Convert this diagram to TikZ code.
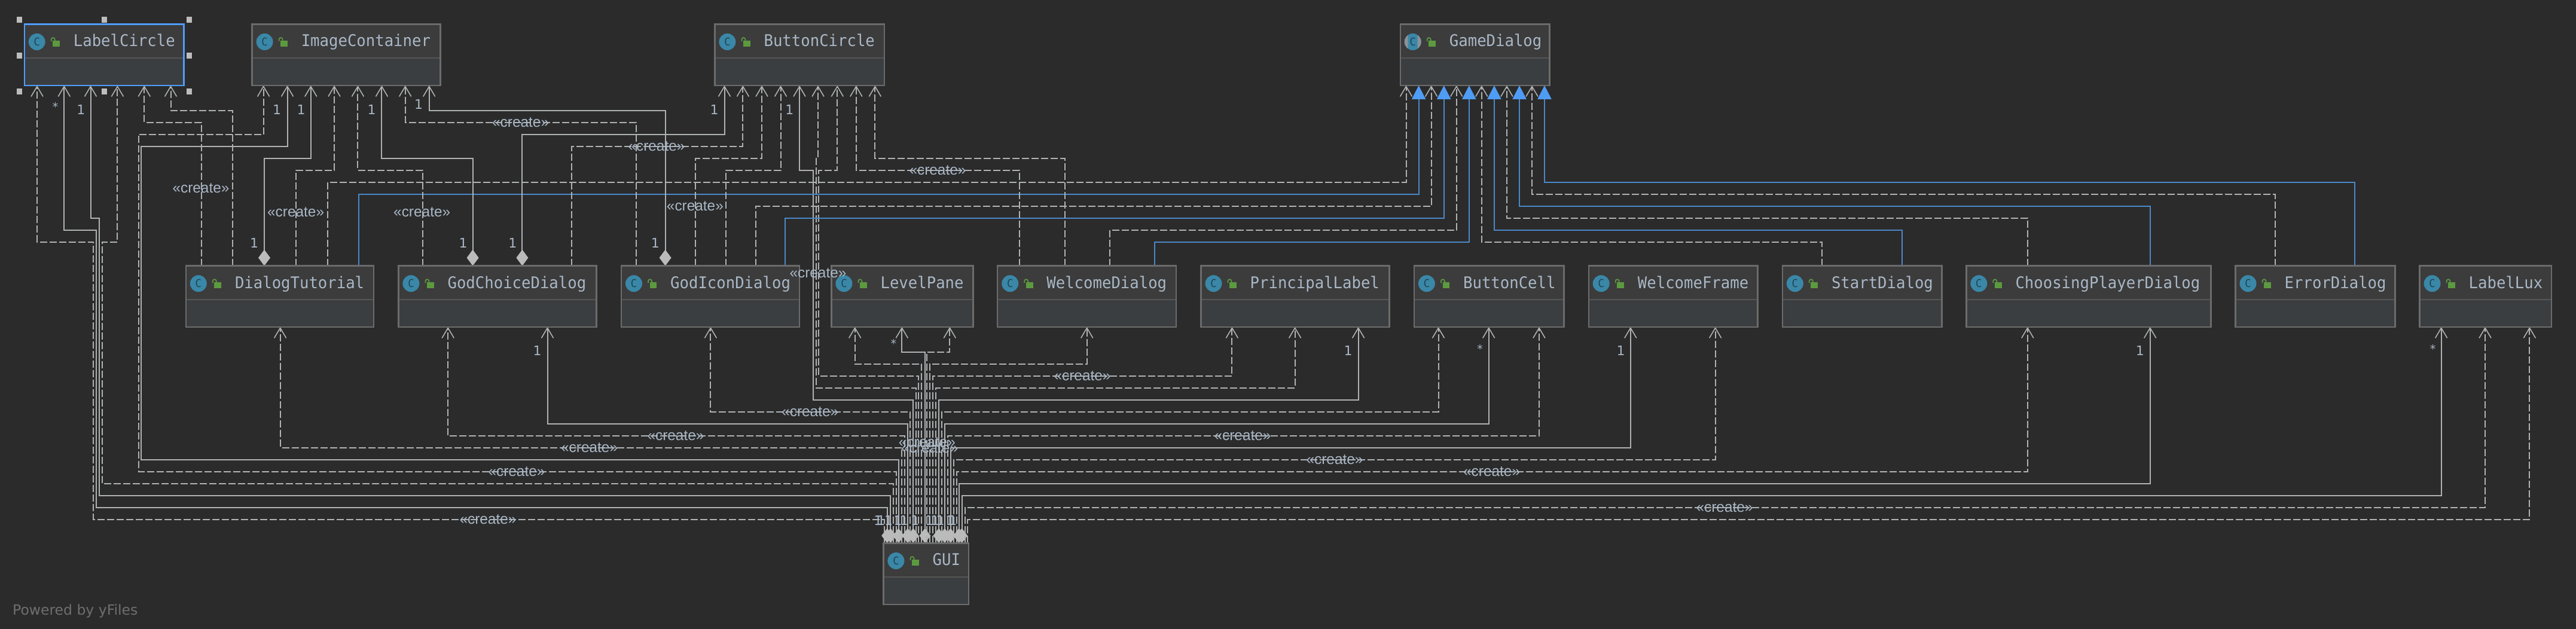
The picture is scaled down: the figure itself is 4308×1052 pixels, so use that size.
\documentclass[tikz,border=0pt]{standalone}
\usepackage{fontspec}
\usetikzlibrary{arrows.meta}
\newfontfamily\boxfont[FakeStretch=0.95]{DejaVu Sans Mono}
\newfontfamily\labfont{DejaVu Sans}
\newfontfamily\crfont{Liberation Sans}
\definecolor{bgc}{HTML}{2B2B2B}
\definecolor{headc}{HTML}{3C3C3C}
\definecolor{bodyc}{HTML}{3B3E40}
\definecolor{borderc}{HTML}{6B6B6B}
\definecolor{divc}{HTML}{555555}
\definecolor{linec}{HTML}{AFB1B3}
\definecolor{bluel}{HTML}{4A88C7}
\definecolor{bluet}{HTML}{4F9CF5}
\definecolor{selc}{HTML}{4F9CFF}
\definecolor{textc}{HTML}{A9B7C6}
\definecolor{iconc}{HTML}{3A87A7}
\definecolor{iconl}{HTML}{1F4454}
\definecolor{absc}{HTML}{8A9299}
\definecolor{lockc}{HTML}{5C9A3F}
\definecolor{diac}{HTML}{BBBBBB}
\definecolor{handc}{HTML}{BDBDBD}
\definecolor{yfc}{HTML}{6E6E6E}
\tikzset{
  x=1pt,y=-1pt,
  umlbox/.style={draw=borderc,line width=2.4pt,fill=bodyc,anchor=north west,inner sep=0pt,outer sep=0pt},
  open/.tip={Straight Barb[length=17pt,width=20pt,line width=1.6pt]},
  solidl/.style={draw=linec,line width=2pt,-{open},line join=miter},
  dashl/.style={draw=linec,line width=2pt,dash pattern=on 12pt off 4pt,-{open}},
  genl/.style={draw=bluel,line width=2pt,-{Triangle[length=23pt,width=23pt,color=bluet]}},
  comp/.style={draw=linec,line width=2pt,{Diamond[length=27pt,width=20pt,color=diac]}-{open}},
  compg/.style={draw=linec,line width=2pt,{Diamond[length=25pt,width=19pt,color=diac]}-{open}},
  cname/.style={anchor=base west,inner sep=0pt,text=textc,font=\boxfont\fontsize{27pt}{29pt}\selectfont},
  clab/.style={inner sep=0pt,text=textc,font=\crfont\fontsize{24.4pt}{26pt}\selectfont},
  mult/.style={inner sep=0pt,text=textc,font=\labfont\fontsize{22pt}{24pt}\selectfont},
  star/.style={inner sep=0pt,text=textc,font=\labfont\fontsize{19pt}{24pt}\selectfont},
  ico/.style={circle,fill=iconc,minimum size=28pt,inner sep=0pt,text=iconl,font=\boxfont\fontsize{18pt}{18pt}\selectfont},
  hand/.style={fill=handc,minimum size=9.5pt,inner sep=0pt,draw=none},
}
\newcommand{\umlnode}[5]{% name, x1, x2, y1, y2
  \pgfmathsetmacro{\bw}{#3-#2}\pgfmathsetmacro{\bh}{#5-#4}
  \node[umlbox,minimum width=\bw pt,minimum height=\bh pt] (#1) at (#2,#4) {};
}
\newcommand{\umldeco}[3]{% name, text, border colour
  \fill[headc] (#1.north west) rectangle ([yshift=-56.5pt]#1.north east);
  \draw[divc,line width=2.2pt] ([yshift=-56.5pt]#1.north west) -- ([yshift=-56.5pt]#1.north east);
  \draw[#3,line width=2.4pt] (#1.south west) rectangle (#1.north east);
  \node[ico] (#1-ico) at ([xshift=21pt,yshift=-29.6pt]#1.north west) {C};
  \fill[lockc] ([xshift=47.6pt,yshift=-27.6pt]#1.north west) rectangle ([xshift=59.3pt,yshift=-37.6pt]#1.north west);
  \draw[lockc,line width=1.7pt] ([xshift=45pt,yshift=-28.4pt]#1.north west) -- ([xshift=45pt,yshift=-25.6pt]#1.north west) arc (180:0:3pt) -- ++(0,-2pt);
  \node[cname] (#1-name) at ([xshift=82pt,yshift=-37.5pt]#1.north west) {#2};
}
% style, from node, x1, lane, x2, to node
\newcommand{\conn}[6]{\draw[#1] (#3,0 |- #2.north) -- (#3,#4) -- (#5,#4) -- (#5,0 |- #6.south);}
% style, x1, lane, x2, lane2, x3, to node (from GUI)
\newcommand{\connl}[7]{\draw[#1] (#2,0 |- gui.north) -- (#2,#3) -- (#4,#3) -- (#4,#5) -- (#6,#5) -- (#6,0 |- #7.south);}
\begin{document}
\begin{tikzpicture}
\fill[bgc] (0,0) rectangle (4308,1052);
\useasboundingbox (0,0) rectangle (4308,1052);
% boxes (geometry first so connectors can refer to them)
\umlnode{labelcircle}{40.7}{307.3}{40.4}{142.9}
\umlnode{imagecontainer}{421.6}{736.6}{40.4}{142.9}
\umlnode{buttoncircle}{1195.4}{1478.8}{40.4}{142.9}
\umlnode{gamedialog}{2341.7}{2591.5}{40.4}{142.9}
\umlnode{dialogtutorial}{310.8}{625}{444.6}{546.8}
\umlnode{godchoice}{666.4}{997.6}{444.6}{546.8}
\umlnode{godicon}{1039}{1337.1}{444.6}{546.8}
\umlnode{levelpane}{1390.4}{1627.6}{444.6}{546.8}
\umlnode{welcomedialog}{1668.2}{1967}{444.6}{546.8}
\umlnode{principal}{2008.5}{2323.5}{444.6}{546.8}
\umlnode{buttoncell}{2364.9}{2615.3}{444.6}{546.8}
\umlnode{welcomeframe}{2656.7}{2939.4}{444.6}{546.8}
\umlnode{startdialog}{2980.8}{3247.4}{444.6}{546.8}
\umlnode{choosing}{3288.3}{3697.5}{444.6}{546.8}
\umlnode{errordialog}{3738.5}{4005.6}{444.6}{546.8}
\umlnode{labellux}{4046.5}{4267}{444.6}{546.8}
\umlnode{gui}{1477.4}{1619.8}{908.4}{1011}
% GUI connectors, left side
\connl{dashl}{1479}{868.5}{156.4}{404.6}{62}{labelcircle}
\connl{compg}{1483.7}{848.5}{161.4}{384.6}{107.3}{labelcircle}
\connl{compg}{1489.3}{828.5}{165.6}{364.6}{151.5}{labelcircle}
\connl{dashl}{1493.6}{808.5}{170.5}{404.6}{196.4}{labelcircle}
\connl{dashl}{1498.5}{788.5}{231.5}{224.6}{440.6}{imagecontainer}
\connl{compg}{1502.7}{768.5}{236.4}{244.6}{480.5}{imagecontainer}
\conn{dashl}{gui}{1507.6}{748.5}{468.6}{dialogtutorial}
\conn{dashl}{gui}{1512.5}{728.5}{749.2}{godchoice}
\conn{compg}{gui}{1518}{708.5}{915.5}{godchoice}
\conn{dashl}{gui}{1522.3}{688.5}{1188.4}{godicon}
\connl{compg}{1527.2}{668.5}{1359.6}{284.6}{1337}{buttoncircle}
\connl{dashl}{1532}{648.5}{1364.5}{264.6}{1368}{buttoncircle}
\connl{dashl}{1536.4}{628.5}{1369.4}{284.6}{1400.3}{buttoncircle}
\conn{dashl}{gui}{1541.2}{608.5}{1429.7}{levelpane}
\conn{compg}{gui}{1546.9}{588.5}{1508.3}{levelpane}
% GUI connectors, right side
\conn{dashl}{gui}{1550.4}{588.5}{1588.3}{levelpane}
\conn{dashl}{gui}{1555.3}{608.5}{1817.7}{welcomedialog}
\conn{dashl}{gui}{1560.2}{628.5}{2060.4}{principal}
\conn{dashl}{gui}{1565.1}{648.5}{2165.6}{principal}
\conn{compg}{gui}{1570}{668.5}{2271.6}{principal}
\conn{dashl}{gui}{1575}{688.5}{2405.5}{buttoncell}
\conn{compg}{gui}{1579.9}{708.5}{2489.7}{buttoncell}
\conn{dashl}{gui}{1584.8}{728.5}{2573.9}{buttoncell}
\conn{compg}{gui}{1589.7}{748.5}{2726.8}{welcomeframe}
\conn{dashl}{gui}{1594.6}{768.5}{2868.6}{welcomeframe}
\conn{dashl}{gui}{1599.5}{788.5}{3390.8}{choosing}
\conn{compg}{gui}{1603.7}{808.5}{3595.7}{choosing}
\conn{compg}{gui}{1608.6}{828.5}{4082.6}{labellux}
\conn{dashl}{gui}{1613.5}{848.5}{4156}{labellux}
\conn{dashl}{gui}{1618.4}{868.5}{4230.3}{labellux}
% middle row upward
\conn{dashl}{dialogtutorial}{336.7}{204.6}{241.3}{labelcircle}
\conn{dashl}{dialogtutorial}{389.3}{184.6}{285.5}{labelcircle}
\conn{comp}{dialogtutorial}{442}{264.6}{519.8}{imagecontainer}
\conn{dashl}{dialogtutorial}{494.6}{284.6}{559}{imagecontainer}
\conn{dashl}{dialogtutorial}{547.9}{304.6}{2351.5}{gamedialog}
\conn{genl}{dialogtutorial}{599.8}{324.6}{2372.6}{gamedialog}
\conn{dashl}{godchoice}{707}{284.6}{598.4}{imagecontainer}
\conn{comp}{godchoice}{790.6}{264.6}{638.4}{imagecontainer}
\conn{comp}{godchoice}{873.4}{224.6}{1211.5}{buttoncircle}
\conn{dashl}{godchoice}{956.2}{244.6}{1242.4}{buttoncircle}
\conn{dashl}{godicon}{1063.5}{204.6}{677.7}{imagecontainer}
\conn{comp}{godicon}{1112.6}{184.6}{717.7}{imagecontainer}
\conn{dashl}{godicon}{1163.1}{264.6}{1274}{buttoncircle}
\conn{dashl}{godicon}{1213.6}{284.6}{1305.5}{buttoncircle}
\conn{dashl}{godicon}{1263.5}{344.6}{2393.6}{gamedialog}
\conn{genl}{godicon}{1313.3}{364.6}{2414.7}{gamedialog}
\conn{dashl}{welcomedialog}{1705.4}{284.6}{1431.8}{buttoncircle}
\conn{dashl}{welcomedialog}{1780.5}{264.6}{1463.4}{buttoncircle}
\conn{dashl}{welcomedialog}{1855.6}{384.6}{2435.7}{gamedialog}
\conn{genl}{welcomedialog}{1930.6}{404.6}{2456.8}{gamedialog}
\conn{dashl}{startdialog}{3046.7}{404.6}{2477.8}{gamedialog}
\conn{genl}{startdialog}{3180.7}{384.6}{2498.9}{gamedialog}
\conn{dashl}{choosing}{3390.8}{364.6}{2519.9}{gamedialog}
\conn{genl}{choosing}{3595.7}{344.6}{2541}{gamedialog}
\conn{dashl}{errordialog}{3804.9}{324.6}{2562}{gamedialog}
\conn{genl}{errordialog}{3938.4}{304.6}{2583}{gamedialog}
% box decoration
\umldeco{labelcircle}{LabelCircle}{selc}
\umldeco{imagecontainer}{ImageContainer}{borderc}
\umldeco{buttoncircle}{ButtonCircle}{borderc}
\umldeco{gamedialog}{GameDialog}{borderc}
\umldeco{dialogtutorial}{DialogTutorial}{borderc}
\umldeco{godchoice}{GodChoiceDialog}{borderc}
\umldeco{godicon}{GodIconDialog}{borderc}
\umldeco{levelpane}{LevelPane}{borderc}
\umldeco{welcomedialog}{WelcomeDialog}{borderc}
\umldeco{principal}{PrincipalLabel}{borderc}
\umldeco{buttoncell}{ButtonCell}{borderc}
\umldeco{welcomeframe}{WelcomeFrame}{borderc}
\umldeco{startdialog}{StartDialog}{borderc}
\umldeco{choosing}{ChoosingPlayerDialog}{borderc}
\umldeco{errordialog}{ErrorDialog}{borderc}
\umldeco{labellux}{LabelLux}{borderc}
\umldeco{gui}{GUI}{borderc}
% abstract marks on GameDialog icon: grey side segments of the disc
\begin{scope}
  \clip ([xshift=-15pt,yshift=15pt]gamedialog-ico.center) rectangle ([xshift=-8pt,yshift=-15pt]gamedialog-ico.center);
  \fill[absc] (gamedialog-ico.center) circle (14pt);
\end{scope}
\begin{scope}
  \clip ([xshift=8pt,yshift=15pt]gamedialog-ico.center) rectangle ([xshift=15pt,yshift=-15pt]gamedialog-ico.center);
  \fill[absc] (gamedialog-ico.center) circle (14pt);
\end{scope}
% selection handles
\node[hand] (h1) at (32.6,33) {};
\node[hand] (h2) at (174.7,33) {};
\node[hand] (h3) at (316.4,33) {};
\node[hand] (h4) at (32.6,92.9) {};
\node[hand] (h5) at (316.4,92.9) {};
\node[hand] (h6) at (32.6,152.9) {};
\node[hand] (h7) at (174.7,152.9) {};
\node[hand] (h8) at (316.4,152.9) {};
% create labels
\node[clab] (c01) at (336,314.6) {«create»};
\node[clab] (c02) at (494.6,354.6) {«create»};
\node[clab] (c03) at (705.7,354.6) {«create»};
\node[clab] (c04) at (870.6,204.6) {«create»};
\node[clab] (c05) at (1098,244.6) {«create»};
\node[clab] (c06) at (1162.4,344.6) {«create»};
\node[clab] (c07) at (1568,284.6) {«create»};
\node[clab] (c08) at (1368,456.8) {«create»};
\node[clab] (c09) at (1354.7,688.5) {«create»};
\node[clab] (c10) at (1130,728.5) {«create»};
\node[clab] (c11) at (985.6,748.5) {«create»};
\node[clab] (c12) at (864,788.5) {«create»};
\node[clab] (c13) at (816,868.5) {«create»};
\node[clab] (c14) at (1810,628.5) {«create»};
\node[clab] (c15) at (2078,728.5) {«create»};
\node[clab] (c16) at (2232,768.5) {«create»};
\node[clab] (c17) at (2494.6,788.5) {«create»};
\node[clab] (c18) at (2884,848.5) {«create»};
\node[clab] (c19) at (1550.4,739.4) {«create»};
\node[clab] (c20) at (1554.6,749.3) {«create»};
% multiplicities
\node[star] (s1) at (92.6,178.6) {*};
\node[star] (s2) at (1494.3,574) {*};
\node[star] (s3) at (2475,583) {*};
\node[star] (s4) at (4068.5,583) {*};
\node[mult] (m01) at (135.4,183) {1};
\node[mult] (m02) at (463,183) {1};
\node[mult] (m03) at (503.7,183) {1};
\node[mult] (m04) at (621.6,183) {1};
\node[mult] (m05) at (700,174) {1};
\node[mult] (m06) at (1194.7,183) {1};
\node[mult] (m07) at (1320.3,183) {1};
\node[mult] (m08) at (425,406.4) {1};
\node[mult] (m09) at (774.5,406.4) {1};
\node[mult] (m10) at (857.3,406.4) {1};
\node[mult] (m11) at (1095.8,406.4) {1};
\node[mult] (m12) at (898.7,586) {1};
\node[mult] (m13) at (2254.7,586) {1};
\node[mult] (m14) at (2710.7,586) {1};
\node[mult] (m15) at (3578.8,586) {1};
\node[mult] (g01) at (1468.3,870) {1};
\node[mult] (g02) at (1473.6,870) {1};
\node[mult] (g03) at (1486,870) {1};
\node[mult] (g04) at (1501.7,870) {1};
\node[mult] (g05) at (1511.7,870) {1};
\node[mult] (g06) at (1530,870) {1};
\node[mult] (g07) at (1554,870) {1};
\node[mult] (g08) at (1563.3,870) {1};
\node[mult] (g09) at (1572.7,870) {1};
\node[mult] (g10) at (1588.3,870) {1};
\node[mult] (g11) at (1593.3,870) {1};
% footer
\node[anchor=base west,inner sep=0pt,text=yfc,font=\labfont\fontsize{23.5pt}{26pt}\selectfont] (yf) at (21,1028) {Powered by yFiles};
\end{tikzpicture}
\end{document}
